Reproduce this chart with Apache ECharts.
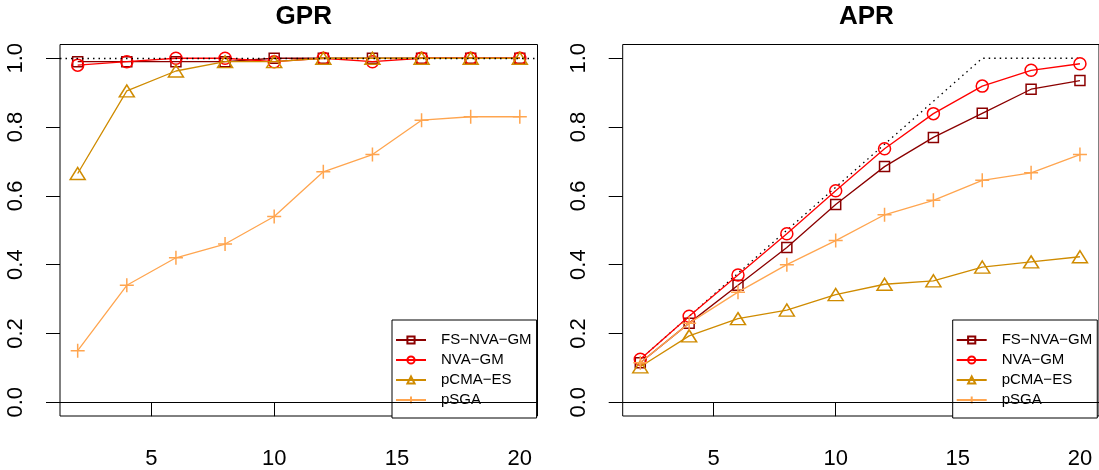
<!DOCTYPE html>
<html><head><meta charset="utf-8">
<script src="https://cdn.jsdelivr.net/npm/echarts@6/dist/echarts.min.js"></script>
<style>html,body{margin:0;padding:0;background:#fff}#c{width:1099px;height:470px}</style>
</head><body><div id="c"></div>
<script>
const xValues = [2,4,6,8,10,12,14,16,18,20];
const seriesNames = ['FS\u2212NVA\u2212GM','NVA\u2212GM','pCMA\u2212ES','pSGA'];
const gprFsNvaGm = [0.99,0.99,0.99,0.99,1.0,1.0,1.0,1.0,1.0,1.0];
const gprNvaGm   = [0.98,0.99,1.0,1.0,0.99,1.0,0.99,1.0,1.0,1.0];
const gprPcmaEs  = [0.665,0.905,0.963,0.99,0.99,1.0,1.0,1.0,1.0,1.0];
const gprPsga    = [0.15,0.34,0.42,0.46,0.54,0.67,0.72,0.82,0.83,0.83];
const aprFsNvaGm = [0.115,0.23,0.34,0.45,0.575,0.685,0.77,0.84,0.91,0.935];
const aprNvaGm   = [0.125,0.25,0.37,0.49,0.615,0.737,0.839,0.919,0.965,0.984];
const aprPcmaEs  = [0.103,0.193,0.243,0.268,0.313,0.343,0.353,0.393,0.408,0.423];
const aprPsga    = [0.115,0.23,0.32,0.40,0.47,0.545,0.587,0.645,0.667,0.72];
const aprReference = [0.125,0.25,0.375,0.5,0.625,0.75,0.875,1,1,1];
const gprReference = 1;
const baseline = 0;
const yTicks = [0,0.2,0.4,0.6,0.8,1.0];
const xTicks = [5,10,15,20];
const panelTitles = ['GPR','APR'];

const colors = ['#8B0000','#FF0000','#CF8B00','#FFA54F'];
const symbols = ['rect','circle','triangle','path://M5,0L5,10M0,5L10,5'];
const symSizes = [10,12,[15,12],14];
const FONT = '"Liberation Sans", Arial, Helvetica, sans-serif';

const pair = (ys) => xValues.map((x,i)=>[x, ys[i]]);

const panels = [
  {left:60, width:477.5, xMax:20.72, data:[gprFsNvaGm,gprNvaGm,gprPcmaEs,gprPsga], ref:null, refH:gprReference, legendLeft:392},
  {left:622.7, width:479, xMax:20.78, data:[aprFsNvaGm,aprNvaGm,aprPcmaEs,aprPsga], ref:aprReference, refH:null, legendLeft:952.7}
];

const grid=[], xAxis=[], yAxis=[], series=[], title=[], legend=[];
panels.forEach((p,k)=>{
  grid.push({left:p.left, top:44.5, width:p.width, height:373.5, show:true, borderColor:'#000', borderWidth:1, backgroundColor:'transparent', containLabel:false});
  xAxis.push({type:'value', gridIndex:k, min:1.28, max:p.xMax,
    axisLine:{show:false}, splitLine:{show:false},
    axisTick:{show:true, length:14, lineStyle:{color:'#000', width:1}, customValues:xTicks},
    axisLabel:{show:true, customValues:xTicks, fontSize:22, color:'#000', fontFamily:FONT, margin:32}
  });
  yAxis.push({type:'value', gridIndex:k, min:-0.04, max:1.04,
    axisLine:{show:false}, splitLine:{show:false},
    axisTick:{show:true, length:14, lineStyle:{color:'#000', width:1}, customValues:yTicks},
    axisLabel:{show:true, customValues:yTicks, rotate:90, fontSize:22, color:'#000', fontFamily:FONT, margin:33,
      formatter:(v)=>Number(v).toFixed(1)}
  });
  title.push({text:panelTitles[k], left:p.left+477.5/2, top:-1, textAlign:'center',
    textStyle:{fontSize:26, fontWeight:'bold', color:'#000', fontFamily:FONT}});
  const mlData = [{yAxis:baseline, lineStyle:{type:'solid', color:'#000', width:1}}];
  if (p.refH !== null) mlData.push({yAxis:p.refH, lineStyle:{type:[1.5,4], color:'#000', width:1.3}});
  series.push({type:'line', xAxisIndex:k, yAxisIndex:k, name:'ref'+k,
    data: p.ref ? pair(p.ref) : [], showSymbol:false, symbol:'none',
    lineStyle:{color:'#000', width:1.3, type:[1.5,4]}, silent:true, z:1,
    markLine:{silent:true, symbol:'none', label:{show:false}, animation:false, data:mlData}
  });
  p.data.forEach((ys,i)=>{
    series.push({type:'line', xAxisIndex:k, yAxisIndex:k, name:seriesNames[i],
      data:pair(ys), symbol:symbols[i], symbolSize:symSizes[i], showAllSymbol:true,
      lineStyle:{color:colors[i], width:1.3},
      itemStyle:{color:'transparent', borderColor:colors[i], borderWidth:1.5},
      emphasis:{disabled:true}, z:2+i
    });
  });
  legend.push({data:seriesNames, orient:'vertical', left:p.legendLeft, top:320,
    itemWidth:30, itemHeight:9, itemGap:5, padding:[12.5,5,10.5,3],
    borderColor:'#000', borderWidth:1, backgroundColor:'#fff', borderRadius:0,
    selectedMode:false,
    textStyle:{fontSize:15, color:'#000', fontFamily:FONT, padding:[0,0,0,10]}
  });
});

const chart = echarts.init(document.getElementById('c'), null, {renderer:'canvas'});
chart.setOption({animation:false, backgroundColor:'#fff', grid, xAxis, yAxis, series, title, legend});
</script></body></html>
